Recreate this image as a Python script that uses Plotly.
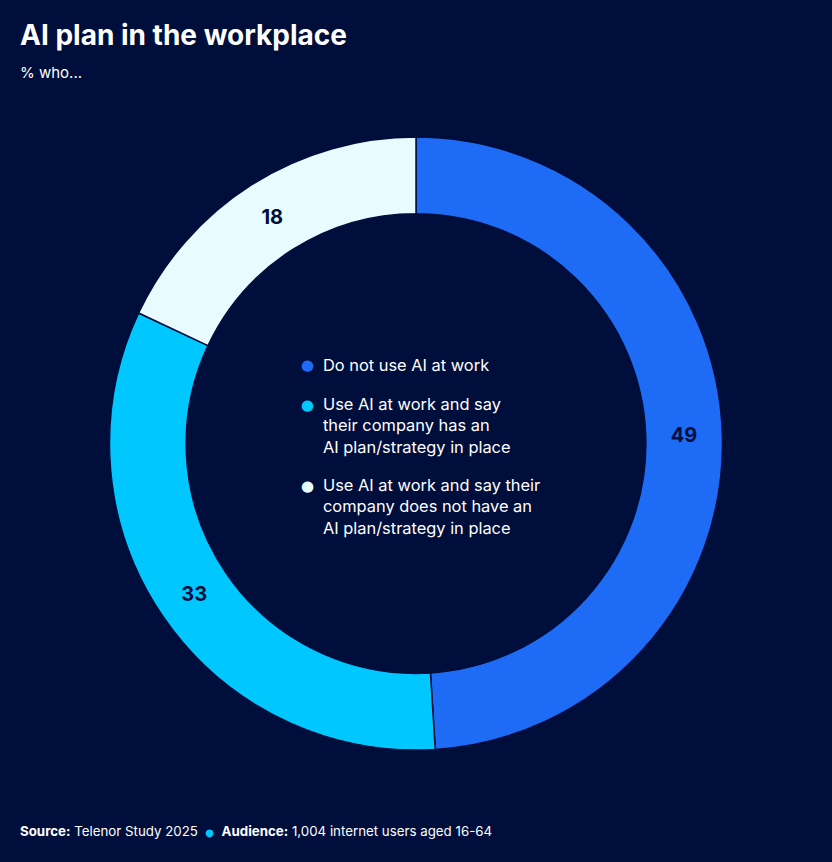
import plotly.graph_objects as go

# ── Data ─────────────────────────────────────────────────────────────
labels = [
    "Do not use AI at work",
    "Use AI at work and say<br>their company has an<br>AI plan/strategy in place",
    "Use AI at work and say their<br>company does not have an<br>AI plan/strategy in place",
]
values = [49, 33, 18]
colors = ["#1E6BF5", "#00C8FF", "#E8FBFF"]

BG = "#000E3C"
W, H = 832, 862


def px_x(x):
    return x / W


def px_y(y):
    return 1 - y / H


fig = go.Figure(
    go.Pie(
        labels=labels,
        values=values,
        hole=0.75,
        sort=False,
        direction="clockwise",
        rotation=0,
        marker=dict(colors=colors, line=dict(color=BG, width=1.5)),
        texttemplate="<b>%{value}</b>",
        textposition="inside",
        insidetextorientation="horizontal",
        textfont=dict(family="Inter", size=20, color=BG),
        showlegend=False,
        domain=dict(x=[px_x(109.5), px_x(722.5)], y=[px_y(750), px_y(137)]),
    )
)

# legend in the donut hole, built from the same arrays
legend_first_line = [365, 405, 486]
legend_center = [365, 425, 506]
annotations = []
for lab, col, y1, yc in zip(labels, colors, legend_first_line, legend_center):
    annotations.append(dict(
        text="●", x=px_x(307), y=px_y(y1), xref="paper", yref="paper",
        xanchor="center", yanchor="middle", showarrow=False,
        font=dict(family="DejaVu Sans", size=15, color=col),
    ))
    annotations.append(dict(
        text=lab, x=px_x(321), y=px_y(yc), xref="paper", yref="paper",
        xanchor="left", yanchor="middle", align="left", showarrow=False,
        font=dict(family="Inter", size=16.4, color="white"),
    ))

# title, subtitle and footer
annotations += [
    dict(text="<b>AI plan in the workplace</b>", x=px_x(18), y=px_y(35),
         xref="paper", yref="paper", xanchor="left", yanchor="middle",
         showarrow=False, font=dict(family="Inter", size=28, color="white")),
    dict(text="% who...", x=px_x(18), y=px_y(72),
         xref="paper", yref="paper", xanchor="left", yanchor="middle",
         showarrow=False, font=dict(family="Inter", size=15, color="white")),
    dict(text=("<b>Source:</b> Telenor Study 2025&nbsp;&nbsp;"
               "<span style='color:#00C8FF;font-family:DejaVu Sans;font-size:10px'>●</span>"
               "&nbsp;&nbsp;<b>Audience:</b> 1,004 internet users aged 16-64"),
         x=px_x(18), y=px_y(831), xref="paper", yref="paper",
         xanchor="left", yanchor="middle", showarrow=False,
         font=dict(family="Inter", size=13.3, color="white")),
]

fig.update_layout(
    width=W,
    height=H,
    margin=dict(l=0, r=0, t=0, b=0),
    paper_bgcolor=BG,
    plot_bgcolor=BG,
    annotations=annotations,
)

# drop the default page margin so the chart sits flush in the window
fig.write_html(
    "out.html",
    config={"displayModeBar": False},
    post_script="document.body.style.margin='0';document.body.style.background='%s';" % BG,
)
